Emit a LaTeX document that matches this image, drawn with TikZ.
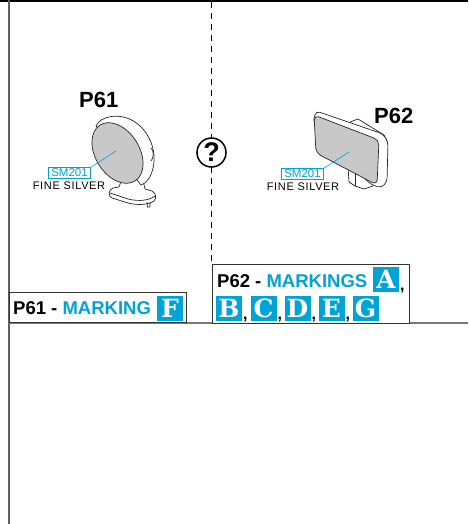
\documentclass[tikz,border=0pt]{standalone}
\usepackage{fontspec}
\setmainfont{Liberation Sans}
\newfontfamily\slabfont{DejaVu Serif}
\definecolor{markcyan}{RGB}{0,163,214}
\definecolor{facegray}{RGB}{200,200,200}
\definecolor{rulegray}{RGB}{120,120,120}
\begin{document}
\begin{tikzpicture}[x=1pt,y=-1pt,
  partline/.style={draw=black!85,line width=0.7pt,line join=round},
  facefill/.style={partline,fill=facegray},
  title/.style={font=\bfseries\fontsize{22}{22}\selectfont,inner sep=0pt,anchor=base west},
  capt/.style={font=\bfseries\fontsize{18.5}{18.5}\selectfont,inner sep=0pt,anchor=base west},
  code/.style={draw=markcyan,text=markcyan,line width=0.6pt,font=\fontsize{11.5}{11.5}\selectfont,inner xsep=3pt,inner ysep=1.5pt},
  finish/.style={font=\addfontfeature{LetterSpace=6}\fontsize{11}{11}\selectfont,inner sep=0pt},
  leader/.style={draw=markcyan,line width=0.6pt},
  letterbox/.style={fill=markcyan,text=white,minimum width=26pt,minimum height=25pt,inner sep=0pt,font=\slabfont\bfseries\fontsize{25}{25}\selectfont},
  sep/.style={font=\bfseries\fontsize{16}{16}\selectfont,inner sep=0pt,anchor=base west},
  panel/.style={draw=black!80,line width=0.8pt,fill=white}]
\useasboundingbox (0,0) rectangle (468,524);

% sheet frame
\draw[black,line width=2pt] (0,1) -- (468,1);
\draw[rulegray!80!black,line width=1.4pt] (9,0) -- (9,524);
\draw[rulegray,line width=1.2pt] (9,323) -- (468,323);
\draw[black,line width=0.8pt,dash pattern=on 6pt off 5pt] (211,2) -- (211,262);

% choice symbol
\node[circle,draw=black,line width=1.5pt,minimum size=29pt,inner sep=0pt,fill=white,
      font=\bfseries\fontsize{27}{27}\selectfont] (choice) at (211.5,152.5) {?};

% ---- P61: round mirror ----
\node[title] (t61) at (79,108) {P61};
% base plate and stem
\path[partline,fill=white] (123,176) -- (119,187) -- (113,188) .. controls (108,190) and (108,196) .. (112,198)
   -- (128,203) .. controls (140,206) and (150,204) .. (154,201)
   .. controls (157,198) and (156,193) .. (152,191) -- (145,189) -- (142,176) -- cycle;
\draw[partline] (110,193) -- (128,199) .. controls (140,202) and (150,200) .. (155,196);
\draw[partline] (147,202) -- (147.5,207) -- (150,207) -- (150,202);
% rear shell
\path[partline,fill=white] (96,126) .. controls (100,116) and (120,112) .. (135,122)
   .. controls (150,132) and (157,152) .. (153,168)
   .. controls (151,177) and (147,183) .. (141,185) -- (118,155) -- cycle;
\draw[partline] (151,148) .. controls (154,150) and (154,158) .. (151,161);
% mirror face
\path[facefill,rotate around={-58:(117.5,153)}] (117.5,153) ellipse [x radius=33, y radius=22];
\node[code] (sm61) at (69.5,173) {SM201};
\draw[leader] (sm61.north east) -- (116,151);
\node[finish] (f61) at (69,186) {FINE SILVER};

% ---- P62: rectangular mirror ----
\node[title] (t62) at (374,123) {P62};
% stand
\path[partline,fill=white] (348,166) -- (349,182) -- (355,186) -- (364,189) -- (373,186) -- (373,172) -- cycle;
\draw[partline] (355,172) -- (355,186);
% back housing
\path[partline,fill=white] (350,122) -- (358,119) -- (384,135) -- (387,141) -- (386,176) -- (378,180) -- cycle;
% frame
\path[partline,fill=white,rounded corners=4pt] (313,122) -- (316,111) -- (383,134) -- (388,142)
   -- (387,182) -- (381,188) -- (370,184) -- cycle;
% mirror face
\path[facefill,rounded corners=5pt] (314,115) -- (379,140) -- (377,185) -- (316,153) -- cycle;
\node[code] (sm62) at (302.5,174) {SM201};
\draw[leader] (sm62.north east) -- (349,152);
\node[finish] (f62) at (303,187) {FINE SILVER};

% ---- marking panels ----
\node[panel,minimum width=177pt,minimum height=30pt,anchor=north west,inner sep=0pt] (box61) at (9,292) {};
\node[capt] (c61) at (13,314) {P61 - \textcolor{markcyan}{MARKING}};
\node[letterbox] (mF) at (170,308) {F};

\node[panel,minimum width=197pt,minimum height=59pt,anchor=north west,inner sep=0pt] (box62) at (212,264) {};
\node[capt] (c62) at (217,287) {P62 - \textcolor{markcyan}{MARKINGS}};
\node[letterbox] (mA) at (386,279.5) {A};
\node[sep] (k1) at (400,290) {,};
\node[letterbox] (mB) at (229,308) {B};
\node[sep] (k2) at (243,319) {,};
\node[letterbox] (mC) at (263.5,308) {C};
\node[sep] (k3) at (277.5,319) {,};
\node[letterbox] (mD) at (297.5,308) {D};
\node[sep] (k4) at (311.5,319) {,};
\node[letterbox] (mE) at (331.5,308) {E};
\node[sep] (k5) at (345.5,319) {,};
\node[letterbox] (mG) at (365.5,308) {G};
\end{tikzpicture}
\end{document}
